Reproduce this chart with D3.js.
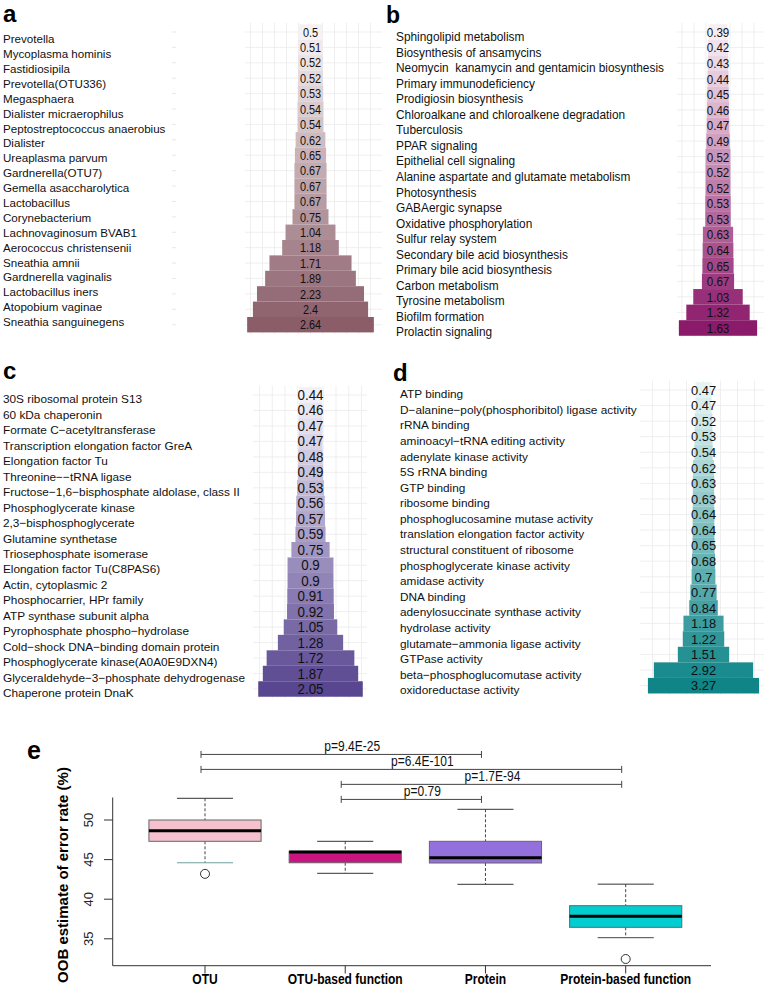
<!DOCTYPE html>
<html><head><meta charset="utf-8">
<script src="https://cdn.jsdelivr.net/npm/d3@7"></script>
<style>body{margin:0;background:#fff}svg{display:block}</style>
</head><body>
<svg id="chart" width="764" height="987"></svg>
<script>
// ---------- DATA ----------
const otuNames = ["Prevotella","Mycoplasma hominis","Fastidiosipila","Prevotella(OTU336)","Megasphaera","Dialister micraerophilus","Peptostreptococcus anaerobius","Dialister","Ureaplasma parvum","Gardnerella(OTU7)","Gemella asaccharolytica","Lactobacillus","Corynebacterium","Lachnovaginosum BVAB1","Aerococcus christensenii","Sneathia amnii","Gardnerella vaginalis","Lactobacillus iners","Atopobium vaginae","Sneathia sanguinegens"];
const otuValues = [0.5,0.51,0.52,0.52,0.53,0.54,0.54,0.62,0.65,0.67,0.67,0.67,0.75,1.04,1.18,1.71,1.89,2.23,2.4,2.64];

const otuFuncNames = ["Sphingolipid metabolism","Biosynthesis of ansamycins","Neomycin  kanamycin and gentamicin biosynthesis","Primary immunodeficiency","Prodigiosin biosynthesis","Chloroalkane and chloroalkene degradation","Tuberculosis","PPAR signaling","Epithelial cell signaling","Alanine aspartate and glutamate metabolism","Photosynthesis","GABAergic synapse","Oxidative phosphorylation","Sulfur relay system","Secondary bile acid biosynthesis","Primary bile acid biosynthesis","Carbon metabolism","Tyrosine metabolism","Biofilm formation","Prolactin signaling"];
const otuFuncValues = [0.39,0.42,0.43,0.44,0.45,0.46,0.47,0.49,0.52,0.52,0.52,0.53,0.53,0.63,0.64,0.65,0.67,1.03,1.32,1.63];

const proteinNames = ["30S ribosomal protein S13","60 kDa chaperonin","Formate C\u2212acetyltransferase","Transcription elongation factor GreA","Elongation factor Tu","Threonine\u2212\u2212tRNA ligase","Fructose\u22121,6\u2212bisphosphate aldolase, class II","Phosphoglycerate kinase","2,3\u2212bisphosphoglycerate","Glutamine synthetase","Triosephosphate isomerase","Elongation factor Tu(C8PAS6)","Actin, cytoplasmic 2","Phosphocarrier, HPr family","ATP synthase subunit alpha","Pyrophosphate phospho\u2212hydrolase","Cold\u2212shock DNA\u2212binding domain protein","Phosphoglycerate kinase(A0A0E9DXN4)","Glyceraldehyde\u22123\u2212phosphate dehydrogenase","Chaperone protein DnaK"];
const proteinValues = [0.44,0.46,0.47,0.47,0.48,0.49,0.53,0.56,0.57,0.59,0.75,0.9,0.9,0.91,0.92,1.05,1.28,1.72,1.87,2.05];

const protFuncNames = ["ATP binding","D\u2212alanine\u2212poly(phosphoribitol) ligase activity","rRNA binding","aminoacyl\u2212tRNA editing activity","adenylate kinase activity","5S rRNA binding","GTP binding","ribosome binding","phosphoglucosamine mutase activity","translation elongation factor activity","structural constituent of ribosome","phosphoglycerate kinase activity","amidase activity","DNA binding","adenylosuccinate synthase activity","hydrolase activity","glutamate\u2212ammonia ligase activity","GTPase activity","beta\u2212phosphoglucomutase activity","oxidoreductase activity"];
const protFuncValues = [0.47,0.47,0.52,0.53,0.54,0.62,0.63,0.63,0.64,0.64,0.65,0.68,0.7,0.77,0.84,1.18,1.22,1.51,2.92,3.27];

// boxplot (panel e)
const boxGroups = ["OTU","OTU-based function","Protein","Protein-based function"];
const boxLowerWhisker = [44.6, 43.27, 41.88, 35.14];
const boxQ1 = [47.31, 44.6, 44.57, 36.45];
const boxMedian = [48.65, 45.95, 45.24, 37.84];
const boxQ3 = [50.0, 46.05, 47.31, 39.18];
const boxUpperWhisker = [52.74, 47.31, 51.35, 41.9];
const boxOutliers = [[43.2], [], [], [32.45]];
const yTicks = [35, 40, 45, 50];
const compPairs = [[0, 2], [0, 3], [1, 3], [1, 2]];
const compLabels = ["p=9.4E-25", "p=6.4E-101", "p=1.7E-94", "p=0.79"];
const compLevels = [58.28, 56.39, 54.5, 52.6];

// ---------- DRAW ----------
const svg = d3.select("#chart");
const FONT = "'Liberation Sans', Arial, Helvetica, sans-serif";

// helper: text with horizontal compression (narrow typeface look)
function ntext(sel, x, y, sx) {
  return sel.attr("transform", `translate(${x},${y}) scale(${sx},1)`);
}

const panels = [
  {letter:"a", lx:3, ly:22, lsize:24, names:otuNames, values:otuValues, labelX:3, labelY:[39,322], barY:[32,324.7],
   cx:310.5, ppu:48, gx:[245,382], gstep:0.25, lo:"#f6f2f3", hi:"#8a5d69", valSize:13, valSx:0.84, labSize:11.6, ticks:true},
  {letter:"b", lx:386, ly:22.5, lsize:23, names:otuFuncNames, values:otuFuncValues, labelX:396, labelY:[37,332], barY:[32,328],
   cx:718, ppu:48, gx:[677,764], gstep:0.25, lo:"#f7eef4", hi:"#8c1a6a", valSize:13.5, valSx:0.86, labSize:11.85},
  {letter:"c", lx:3, ly:379, lsize:24, names:proteinNames, values:proteinValues, labelX:3, labelY:[399,693], barY:[395,689],
   cx:310.5, ppu:51, gx:[253,367], gstep:0.25, lo:"#f1eff7", hi:"#594690", valSize:13.8, valSx:0.97, labSize:11.8},
  {letter:"d", lx:393, ly:380.5, lsize:24, names:protFuncNames, values:protFuncValues, labelX:400, labelY:[394,690], barY:[390,685.7],
   cx:703.5, ppu:34, gx:[640,764], gstep:0.5, lo:"#e4f3f3", hi:"#0f8588", valSize:13.3, valSx:0.97, labSize:11.8}
];

panels.forEach(p => {
  const n = p.values.length;
  const g = svg.append("g");
  const yBar = d3.scalePoint().domain(d3.range(n)).range(p.barY);
  const yLab = d3.scalePoint().domain(d3.range(n)).range(p.labelY);
  const step = yBar.step();
  const x = d3.scaleLinear().domain([0, 1]).range([p.cx, p.cx + p.ppu]);
  const color = d3.scaleLinear().domain([0, n - 1]).range([p.lo, p.hi]).interpolate(d3.interpolateRgb);
  const gy0 = p.barY[0] - step * 0.6, gy1 = p.barY[1] + step * 0.6;

  // grid
  const kMin = Math.ceil(x.invert(p.gx[0]) / p.gstep), kMax = Math.floor(x.invert(p.gx[1]) / p.gstep);
  const vt = d3.range(kMin, kMax + 1).map(k => k * p.gstep);
  g.selectAll(".vg").data(vt).join("line")
    .attr("x1", d => x(d)).attr("x2", d => x(d)).attr("y1", gy0).attr("y2", gy1)
    .attr("stroke", "#ebebeb").attr("stroke-width", 0.8);
  g.selectAll(".hg").data(d3.range(n)).join("line")
    .attr("x1", p.gx[0]).attr("x2", p.gx[1]).attr("y1", d => yBar(d)).attr("y2", d => yBar(d))
    .attr("stroke", "#ebebeb").attr("stroke-width", 0.8);

  if (p.ticks) {
    g.selectAll(".tk").data(d3.range(n)).join("line")
      .attr("x1", 172).attr("x2", 176).attr("y1", d => yBar(d)).attr("y2", d => yBar(d))
      .attr("stroke", "#e2e2e2").attr("stroke-width", 0.8);
  }

  // bars
  g.selectAll(".bar").data(p.values).join("rect")
    .attr("x", d => x(-d / 2)).attr("width", d => x(d / 2) - x(-d / 2))
    .attr("y", (d, i) => yBar(i) - step / 2).attr("height", step)
    .attr("fill", (d, i) => color(i));

  // values
  g.selectAll(".val").data(p.values).join("text")
    .each(function(d, i) { ntext(d3.select(this), p.cx, yBar(i), p.valSx); })
    .attr("dy", "0.36em")
    .attr("text-anchor", "middle").attr("font-family", FONT).attr("font-size", p.valSize)
    .attr("fill", "#111").text(d => d);

  // labels
  g.selectAll(".lab").data(p.names).join("text")
    .attr("x", p.labelX).attr("y", (d, i) => yLab(i)).attr("dy", "0.36em")
    .attr("font-family", FONT).attr("font-size", p.labSize).attr("fill", "#111")
    .style("white-space", "pre").text(d => d);

  // letter
  svg.append("text").attr("x", p.lx).attr("y", p.ly).attr("font-family", FONT)
    .attr("font-weight", "bold").attr("font-size", p.lsize).attr("fill", "#000").text(p.letter);
});

// ---------- PANEL E ----------
const e = svg.append("g");
const xb = d3.scaleLinear().domain([1, 4]).range([205, 625.7]);
const yb = d3.scaleLinear().domain([35, 50]).range([938.8, 820]);
const boxW = 0.4, capW = 0.2;
const axisCol = "#333";

svg.append("text").attr("x", 27).attr("y", 759).attr("font-family", FONT).attr("font-weight", "bold")
  .attr("font-size", 25).text("e");

// axes (L-shaped frame)
e.append("line").attr("x1", 112.7).attr("x2", 112.7).attr("y1", 797.5).attr("y2", 965.7).attr("stroke", axisCol);
e.append("line").attr("x1", 112.7).attr("x2", 711).attr("y1", 965.7).attr("y2", 965.7).attr("stroke", axisCol);
e.selectAll(".yt").data(yTicks).join("line")
  .attr("x1", 104).attr("x2", 112.7).attr("y1", d => yb(d)).attr("y2", d => yb(d)).attr("stroke", axisCol);
e.selectAll(".ytl").data(yTicks).join("text")
  .attr("transform", d => `translate(93,${yb(d)}) rotate(-90)`)
  .attr("text-anchor", "middle").attr("font-family", FONT).attr("font-size", 13).attr("fill", "#222").text(d => d);
e.append("text").attr("transform", "translate(68,875) rotate(-90)").attr("text-anchor", "middle")
  .attr("font-family", FONT).attr("font-weight", "bold").attr("font-size", 15).text("OOB estimate of error rate (%)");
e.selectAll(".xt").data(boxGroups).join("line")
  .attr("x1", (d, i) => xb(i + 1)).attr("x2", (d, i) => xb(i + 1)).attr("y1", 965.7).attr("y2", 973.5).attr("stroke", axisCol);
e.selectAll(".xtl").data(boxGroups).join("text")
  .each(function(d, i) { ntext(d3.select(this), xb(i + 1), 984, 0.86); })
  .attr("text-anchor", "middle")
  .attr("font-family", FONT).attr("font-weight", "bold").attr("font-size", 14).text(d => d);

const boxFill = ["#f5c1cf", "#c9157f", "#9370db", "#00ced1"];
const lowCapCol = ["#6f9e9e", "#333", "#333", "#444"];
boxGroups.forEach((gname, i) => {
  const cx = xb(i + 1);
  // whiskers
  e.append("line").attr("x1", cx).attr("x2", cx).attr("y1", yb(boxUpperWhisker[i])).attr("y2", yb(boxQ3[i]))
    .attr("stroke", "#444").attr("stroke-dasharray", "3,2");
  e.append("line").attr("x1", cx).attr("x2", cx).attr("y1", yb(boxQ1[i])).attr("y2", yb(boxLowerWhisker[i]))
    .attr("stroke", "#444").attr("stroke-dasharray", "3,2");
  e.append("line").attr("x1", xb(i + 1 - capW)).attr("x2", xb(i + 1 + capW))
    .attr("y1", yb(boxUpperWhisker[i])).attr("y2", yb(boxUpperWhisker[i])).attr("stroke", "#333");
  e.append("line").attr("x1", xb(i + 1 - capW)).attr("x2", xb(i + 1 + capW))
    .attr("y1", yb(boxLowerWhisker[i])).attr("y2", yb(boxLowerWhisker[i])).attr("stroke", lowCapCol[i]);
  // box
  e.append("rect").attr("x", xb(i + 1 - boxW)).attr("width", xb(i + 1 + boxW) - xb(i + 1 - boxW))
    .attr("y", yb(boxQ3[i])).attr("height", yb(boxQ1[i]) - yb(boxQ3[i]))
    .attr("fill", boxFill[i]).attr("stroke", "#666").attr("stroke-width", 1);
  e.append("line").attr("x1", xb(i + 1 - boxW)).attr("x2", xb(i + 1 + boxW))
    .attr("y1", yb(boxMedian[i])).attr("y2", yb(boxMedian[i])).attr("stroke", "#000").attr("stroke-width", 3);
  boxOutliers[i].forEach(o => {
    e.append("circle").attr("cx", cx).attr("cy", yb(o)).attr("r", 4.5)
      .attr("fill", "none").attr("stroke", "#333");
  });
});

// comparison brackets
compPairs.forEach((pr, k) => {
  const x1 = xb(pr[0] + 1) - 4, x2 = xb(pr[1] + 1) - 4, y = yb(compLevels[k]);
  e.append("line").attr("x1", x1).attr("x2", x2).attr("y1", y).attr("y2", y).attr("stroke", "#444");
  [x1, x2].forEach(xx => e.append("line").attr("x1", xx).attr("x2", xx).attr("y1", y - 3.5).attr("y2", y + 3.5).attr("stroke", "#444"));
  ntext(e.append("text"), (x1 + x2) / 2 + 11, y - 3.2, 0.86).attr("text-anchor", "middle")
    .attr("font-family", FONT).attr("font-size", 14).attr("fill", "#111").text(compLabels[k]);
});
</script>
</body></html>
